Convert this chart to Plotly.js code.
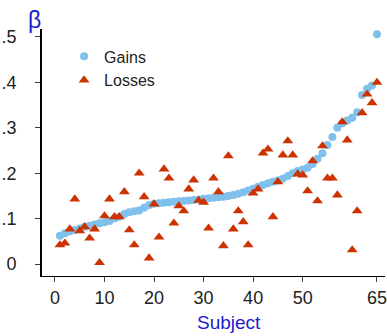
<!DOCTYPE html>
<html>
<head>
<meta charset="utf-8">
<script src="https://cdn.plot.ly/plotly-3.0.1.min.js"></script>
<style>html,body{margin:0;padding:0;background:#fff;}#chart{width:387px;height:336px;}</style>
</head>
<body>
<div id="chart"></div>
<script>
// Subjects 1..65
const subjects = [1,2,3,4,5,6,7,8,9,10,11,12,13,14,15,16,17,18,19,20,21,22,23,24,25,26,27,28,29,30,31,32,33,34,35,36,37,38,39,40,41,42,43,44,45,46,47,48,49,50,51,52,53,54,55,56,57,58,59,60,61,62,63,64,65];
// Gains (sorted ascending)
const gains = [0.062,0.068,0.072,0.075,0.078,0.082,0.084,0.087,0.090,0.092,0.095,0.100,0.104,0.110,0.114,0.116,0.118,0.124,0.130,0.133,0.134,0.135,0.136,0.137,0.138,0.139,0.140,0.141,0.142,0.144,0.145,0.146,0.147,0.148,0.150,0.152,0.155,0.158,0.162,0.166,0.170,0.174,0.178,0.181,0.184,0.188,0.194,0.200,0.205,0.208,0.212,0.220,0.232,0.244,0.262,0.280,0.300,0.310,0.316,0.322,0.334,0.372,0.386,0.393,0.506];
// Losses
const losses = [0.042,0.046,0.077,0.143,0.073,0.082,0.057,0.077,0.003,0.106,0.143,0.104,0.104,0.159,0.075,0.042,0.200,0.148,0.013,0.132,0.059,0.209,0.189,0.090,0.128,0.117,0.165,0.185,0.140,0.136,0.079,0.189,0.159,0.040,0.238,0.077,0.117,0.093,0.042,0.156,0.165,0.244,0.253,0.104,0.181,0.240,0.271,0.240,0.198,0.196,0.161,0.227,0.139,0.260,0.189,0.189,0.152,0.313,0.273,0.031,0.117,0.333,0.374,0.355,0.400];
const xRange = [-2.62, 66.62];
const yRange = [-0.0264, 0.5176];
const xTicks = [0,10,20,30,40,50,65];
const yTicks = [0,0.1,0.2,0.3,0.4,0.5];
const yTickText = ['0','.1','.2','.3','.4','.5'];

const tickFont = {size: 18, color: '#222'};
const pad = '\u00a0\u00a0\u00a0';

const traces = [
  {x: subjects, y: gains, name: 'Gains', type: 'scatter', mode: 'markers',
   marker: {symbol: 'circle', size: 8, color: '#80c0ec'}},
  {x: subjects, y: losses, name: 'Losses', type: 'scatter', mode: 'markers',
   marker: {symbol: 'triangle-up', size: 9.5, color: '#cc3300'}}
];
const layout = {
  width: 387, height: 336,
  margin: {l: 42, r: 2, t: 29, b: 60},
  paper_bgcolor: '#fff', plot_bgcolor: '#fff',
  font: {family: 'Liberation Sans, Arial, sans-serif', color: '#222'},
  showlegend: true,
  legend: {x: 0.0644, y: 0.958, xanchor: 'left', yanchor: 'top', bgcolor: 'rgba(0,0,0,0)',
           font: {size: 16, color: '#222'}},
  xaxis: {range: xRange, showline: true, linecolor: 'black', linewidth: 1,
          ticks: 'outside', ticklen: 5, tickvals: xTicks, showgrid: false, zeroline: false,
          tickfont: tickFont, ticklabeloverflow: 'allow'},
  yaxis: {range: yRange, showline: true, linecolor: 'black', linewidth: 2,
          ticks: 'outside', ticklen: 5, tickvals: yTicks, ticktext: yTickText.map(t => t + pad),
          showgrid: false, zeroline: false, tickfont: tickFont},
  annotations: [
    {text: 'Subject', xref: 'paper', yref: 'paper', x: 0.545, y: -0.19,
     xanchor: 'center', yanchor: 'middle', showarrow: false, font: {size: 19, color: '#1c1cd0'}},
    {text: 'β', xref: 'paper', yref: 'paper', x: -0.0233, y: 1.036,
     xanchor: 'center', yanchor: 'middle', showarrow: false, font: {size: 23, color: '#1c1cd0'}}
  ]
};
Plotly.newPlot('chart', traces, layout, {displayModeBar: false});
</script>
</body>
</html>
